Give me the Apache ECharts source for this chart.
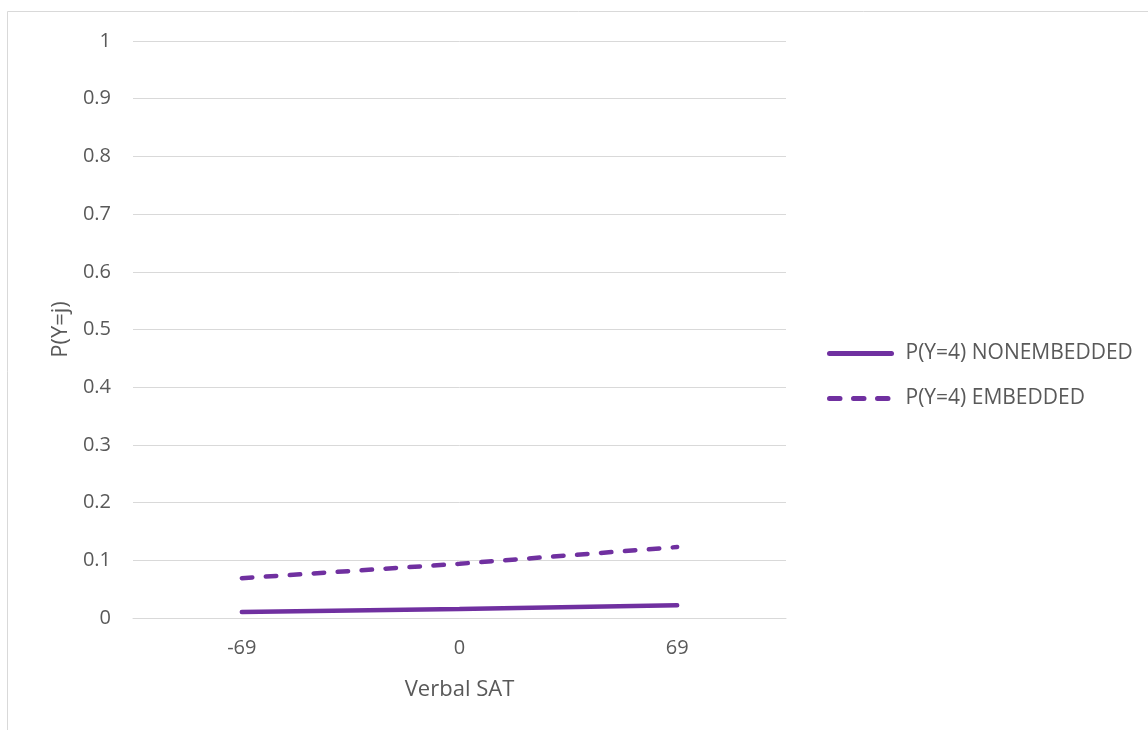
<!DOCTYPE html>
<html>
<head>
<meta charset="utf-8">
<script src="https://cdn.jsdelivr.net/npm/echarts@6/dist/echarts.min.js"></script>
<style>
html,body{margin:0;padding:0;background:#fff;}
#chart{width:1148px;height:730px;}
</style>
</head>
<body>
<div id="chart"></div>
<script>
const categories = ['-69', '0', '69'];
const nonEmbedded = [0.0105, 0.0155, 0.0222];
const embedded = [0.069, 0.094, 0.123];
const seriesNames = ['P(Y=4) NONEMBEDDED', 'P(Y=4) EMBEDDED'];

const font = 'Open Sans';
const txt = '#595959';
const purple = '#7030A0';

const chart = echarts.init(document.getElementById('chart'));
chart.setOption({
  backgroundColor: '#fff',
  animation: false,
  graphic: [{
    type: 'rect', shape: {x: 7.5, y: 11.5, width: 1300, height: 900},
    style: {fill: 'none', stroke: '#d9d9d9', lineWidth: 1}, z: -1
  }],
  grid: {left: 133, right: 362, top: 41, bottom: 112, containLabel: false},
  legend: {
    orient: 'vertical', left: 822, top: 338, itemGap: 24,
    itemWidth: 62, itemHeight: 18,
    itemStyle: {opacity: 0},
    lineStyle: {width: 5, cap: 'round'},
    textStyle: {fontFamily: font, fontSize: 21, color: txt, padding: [0,0,0,9]},
    data: seriesNames
  },
  xAxis: {
    type: 'category', data: categories, boundaryGap: true,
    name: 'Verbal SAT', nameLocation: 'middle', nameGap: 61,
    nameTextStyle: {fontFamily: font, fontSize: 22, color: txt},
    axisLine: {show: true, lineStyle: {color: '#d9d9d9', width: 1}},
    axisTick: {show: false},
    axisLabel: {fontFamily: font, fontSize: 20, color: txt, margin: 20}
  },
  yAxis: {
    type: 'value', min: 0, max: 1, interval: 0.1,
    name: 'P(Y=j)', nameLocation: 'middle', nameGap: 61, nameRotate: 90,
    nameTextStyle: {fontFamily: font, fontSize: 22, color: txt},
    axisLine: {show: false}, axisTick: {show: false},
    axisLabel: {fontFamily: font, fontSize: 20, color: txt, margin: 22,
      formatter: v => String(Math.round(v * 10) / 10)},
    splitLine: {lineStyle: {color: '#d9d9d9', width: 1}}
  },
  series: [
    {name: seriesNames[0], type: 'line', data: nonEmbedded, symbol: 'none',
     lineStyle: {color: purple, width: 4.5, cap: 'round'}, itemStyle: {color: purple}},
    {name: seriesNames[1], type: 'line', data: embedded, symbol: 'none',
     lineStyle: {color: purple, width: 4.5, type: [10.5, 13.5], cap: 'round'}, itemStyle: {color: purple}}
  ]
});
</script>
</body>
</html>
